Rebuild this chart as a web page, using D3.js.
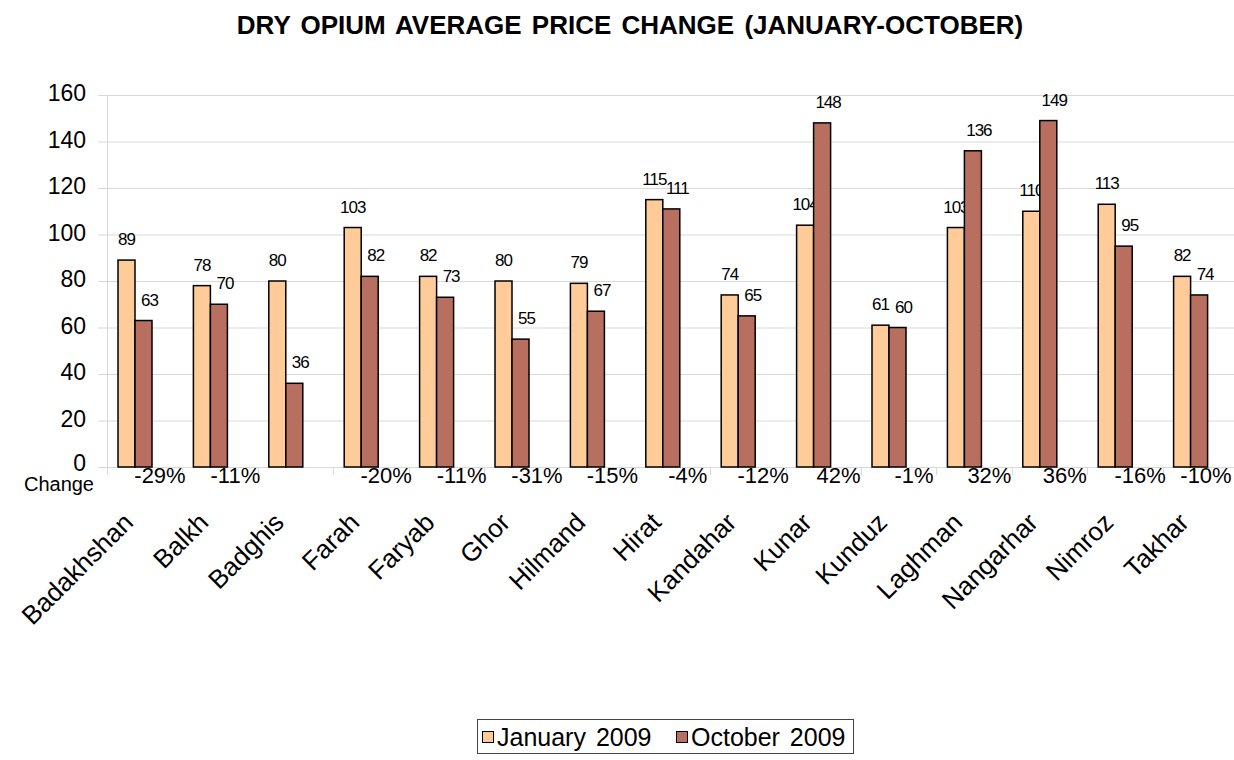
<!DOCTYPE html>
<html>
<head>
<meta charset="utf-8">
<script src="https://d3js.org/d3.v7.min.js"></script>
<style>
    html, body { margin: 0; padding: 0; background: #fff; }
    svg { display: block; font-family: Arial, "Liberation Sans", sans-serif; }
</style>
</head>
<body>
<div id="chart"></div>
<script>
// data
var provinces = ['Badakhshan', 'Balkh', 'Badghis', 'Farah', 'Faryab', 'Ghor', 'Hilmand', 'Hirat',
                 'Kandahar', 'Kunar', 'Kunduz', 'Laghman', 'Nangarhar', 'Nimroz', 'Takhar'];
var january2009 = [89, 78, 80, 103, 82, 80, 79, 115, 74, 104, 61, 103, 110, 113, 82];
var october2009 = [63, 70, 36, 82, 73, 55, 67, 111, 65, 148, 60, 136, 149, 95, 74];
var changeLabels = ['-29%', '-11%', '', '-20%', '-11%', '-31%', '-15%', '-4%', '-12%',
                    '42%', '-1%', '32%', '36%', '-16%', '-10%'];
var yTicks = [0, 20, 40, 60, 80, 100, 120, 140, 160];
var seriesNames = ['January 2009', 'October 2009'];
var seriesColors = ['#ffcc99', '#b86f5f'];

var W = 1234, H = 760;
var svg = d3.select('#chart').append('svg')
    .attr('width', W).attr('height', H);
svg.append('rect').attr('width', W).attr('height', H).attr('fill', '#fff');

var x = d3.scaleBand().domain(provinces).range([107, 1238]).padding(0);
var y = d3.scaleLinear().domain([0, 160]).range([467, 95]);
var bw = 17, off = 11;

// title
svg.append('text')
    .attr('x', 630).attr('y', 34)
    .attr('text-anchor', 'middle')
    .style('font-size', '26px').style('font-weight', 'bold')
    .style('word-spacing', '3px')
    .text('DRY OPIUM AVERAGE PRICE CHANGE (JANUARY-OCTOBER)');

// grid
svg.append('g').selectAll('line')
    .data(yTicks)
    .enter().append('line')
    .attr('x1', 98).attr('x2', W)
    .attr('y1', function(d) { return y(d) + 0.5; })
    .attr('y2', function(d) { return y(d) + 0.5; })
    .attr('stroke', '#d9d9d9').attr('stroke-width', 1);

svg.append('line')
    .attr('x1', 107.5).attr('x2', 107.5)
    .attr('y1', y(160)).attr('y2', 475)
    .attr('stroke', '#d9d9d9');

svg.append('g').selectAll('line')
    .data(provinces.slice(1))
    .enter().append('line')
    .attr('x1', function(d) { return Math.round(x(d)) + 0.5; })
    .attr('x2', function(d) { return Math.round(x(d)) + 0.5; })
    .attr('y1', y(0)).attr('y2', 475)
    .attr('stroke', '#d9d9d9');

// y tick labels
svg.append('g').selectAll('text')
    .data(yTicks)
    .enter().append('text')
    .attr('x', 86)
    .attr('y', function(d) { return y(d) + (d === 0 ? 4 : 6); })
    .attr('text-anchor', 'end')
    .style('font-size', '23px')
    .text(function(d) { return d; });

svg.append('text')
    .attr('x', 94).attr('y', 491)
    .attr('text-anchor', 'end')
    .style('font-size', '20px')
    .text('Change');

// bars + value labels (Jan labels drawn before Oct bars, as in the picture)
var groups = [january2009, october2009];
groups.forEach(function(vals, s) {
    svg.append('g').selectAll('rect')
        .data(vals)
        .enter().append('rect')
        .attr('x', function(d, i) { return x(provinces[i]) + off + s * bw; })
        .attr('y', function(d) { return y(d); })
        .attr('width', bw)
        .attr('height', function(d) { return y(0) - y(d); })
        .attr('fill', seriesColors[s])
        .attr('stroke', '#000').attr('stroke-width', 1.5);

    svg.append('g').selectAll('text')
        .data(vals)
        .enter().append('text')
        .attr('x', function(d, i) { return x(provinces[i]) + off + s * bw + bw / 2 + s * 6; })
        .attr('y', function(d) { return y(d) - 15; })
        .attr('text-anchor', 'middle')
        .style('font-size', '17px')
        .style('letter-spacing', '-1px')
        .text(function(d) { return d; });
});

// change labels
svg.append('g').selectAll('text')
    .data(changeLabels)
    .enter().append('text')
    .attr('x', function(d, i) { return Math.min(x(provinces[i]) + 53, W - 28); })
    .attr('y', 483)
    .attr('text-anchor', 'middle')
    .style('font-size', '22px')
    .text(function(d) { return d; });

// category labels
svg.append('g').selectAll('text')
    .data(provinces)
    .enter().append('text')
    .attr('text-anchor', 'end')
    .attr('transform', function(d) {
        return 'translate(' + (x(d) + x.bandwidth() / 2 - 10) + ',524) rotate(-45)';
    })
    .style('font-size', '26px')
    .text(function(d) { return d; });

// legend
var lg = svg.append('g');
lg.append('rect')
    .attr('x', 477.5).attr('y', 719.5).attr('width', 376).attr('height', 34)
    .attr('fill', '#fff').attr('stroke', '#444');
var lx = [482, 676];
seriesNames.forEach(function(n, s) {
    lg.append('rect')
        .attr('x', lx[s] + 0.5).attr('y', 731.5).attr('width', 11).attr('height', 11)
        .attr('fill', seriesColors[s]).attr('stroke', '#000');
    lg.append('text')
        .attr('x', lx[s] + 15).attr('y', 746)
        .style('font-size', '25px')
        .style('word-spacing', '3px')
        .text(n);
});
</script>
</body>
</html>
